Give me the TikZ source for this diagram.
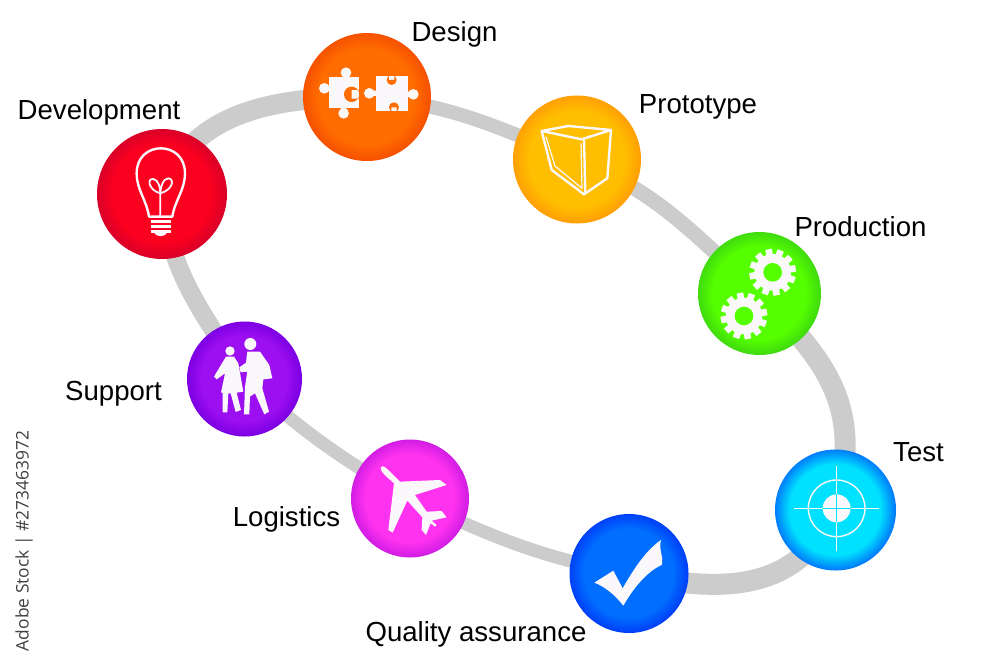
\documentclass[tikz,border=0pt]{standalone}
\usepackage{fontspec}
\setmainfont{Liberation Sans}
\newfontfamily\stockfont{Open Sans}
\usetikzlibrary{backgrounds,positioning}

\definecolor{ringgrey}{RGB}{204,204,204}
\definecolor{iconwhite}{RGB}{250,248,250}
\definecolor{redin}{RGB}{252,0,32}\definecolor{redout}{RGB}{218,0,40}
\definecolor{orangein}{RGB}{255,108,0}\definecolor{orangeout}{RGB}{246,82,0}
\definecolor{yellowin}{RGB}{255,190,0}\definecolor{yellowout}{RGB}{255,160,5}
\definecolor{greenin}{RGB}{85,255,0}\definecolor{greenout}{RGB}{65,220,15}
\definecolor{cyanin}{RGB}{0,225,255}\definecolor{cyanout}{RGB}{0,125,250}
\definecolor{bluein}{RGB}{0,110,255}\definecolor{blueout}{RGB}{0,65,248}
\definecolor{pinkin}{RGB}{255,50,240}\definecolor{pinkout}{RGB}{210,30,228}
\definecolor{purplein}{RGB}{155,15,240}\definecolor{purpleout}{RGB}{125,0,228}

\tikzset{
  ball/.style n args={2}{circle,minimum size=2*#1 pt,inner sep=0pt,fill=#2out,
    path picture={
      \foreach \stepno in {1,...,16}{
        \pgfmathsetmacro\mixval{\stepno*100/16}
        \pgfmathsetmacro\radval{#1*(1-0.015*\stepno)}
        \fill[#2in!\mixval!#2out] (path picture bounding box.center) circle (\radval pt);
      }
    }},
  caption/.style={anchor=base,font=\fontsize{27.6}{30}\selectfont},
  ringline/.style={draw=ringgrey,line width=#1},
  iconline/.style={draw=iconwhite,line width=2.4pt,line join=round},
  zoomed/.style={shift={(#1)},x=0.3333pt,y=-0.3333pt}
}

\begin{document}
\begin{tikzpicture}[x=1pt,y=-1pt]
  \useasboundingbox (0,0) rectangle (1000,667);

  \node[ball={65}{red}]      (dev)    at (162,194) {};
  \node[ball={64}{orange}]   (design) at (367,97) {};
  \node[ball={64}{yellow}]   (proto)  at (577,159.5) {};
  \node[ball={61.5}{green}]  (prod)   at (759.5,293.5) {};
  \node[ball={60.5}{cyan}]   (test)   at (835.5,510) {};
  \node[ball={59.5}{blue}]   (qa)     at (629,573.5) {};
  \node[ball={59}{pink}]     (logi)   at (410,498.5) {};
  \node[ball={57.5}{purple}] (supp)   at (244.5,379) {};

  \begin{pgfonlayer}{background}
    \path[ringline=20pt] (dev.center) edge[out=72,in=180] (design.center);
    \path[ringline=14pt] (design.center) edge[out=-5,in=158] (proto.center);
    \path[ringline=15pt] (proto.center) edge[out=-22,in=138] (prod.center);
    \path[ringline=21pt] (prod.center) edge[out=-45,in=75,looseness=1.15] (test.center);
    \path[ringline=21pt] (test.center) edge[out=-115,in=-12,looseness=1.1] (qa.center);
    \path[ringline=13pt] (qa.center) edge[out=170,in=-25] (logi.center);
    \path[ringline=13pt] (logi.center) edge[out=150,in=-42] (supp.center);
    \path[ringline=18pt] (supp.center) edge[out=122,in=-85] (dev.center);
  \end{pgfonlayer}

  \node[caption] (devtxt)    at (99,119)  {Development};
  \node[caption] (designtxt) at (454.5,41) {Design};
  \node[caption] (prototxt)  at (698,113) {Prototype};
  \node[caption] (prodtxt)   at (860.5,236) {Production};
  \node[caption] (testtxt)   at (918.5,461) {Test};
  \node[caption] (supptxt)   at (113.5,400) {Support};
  \node[caption] (logitxt)   at (286.5,526) {Logistics};
  \node[caption] (qatxt)     at (476,641) {Quality assurance};
  \node[anchor=center,rotate=90,font=\stockfont\fontsize{17.4}{20}\selectfont,text=black!75] (stockid) at (24,541) {Adobe Stock | \#273463972};

  % bulb
  \begin{scope}[zoomed={80,0}]
    \draw[iconline] (207,650) .. controls (200,600) and (170,570) .. (170,520)
      .. controls (170,420) and (315,420) .. (315,520)
      .. controls (315,570) and (285,600) .. (277,650) -- cycle;
    \draw[iconline,line width=1.8pt] (241,650) -- (241,580)
      .. controls (205,570) and (200,535) .. (220,537) .. controls (235,540) and (241,560) .. (241,585)
      .. controls (241,560) and (250,535) .. (265,535) .. controls (285,537) and (278,570) .. (241,580);
    \foreach \ypos in {664,680,694}
      \draw[iconline] (212,\ypos) -- (273,\ypos);
    \fill[iconwhite] (222,698) .. controls (228,712) and (256,712) .. (262,698) -- cycle;
  \end{scope}

  % puzzle
  \begin{scope}[zoomed={80,0}]
    \fill[iconwhite] (748,232) rectangle (838,325);
    \foreach \xpos/\ypos in {798/218,733/265,791/340}
      \fill[iconwhite] (\xpos,\ypos) circle (16);
    \fill[iconwhite] (790,225) rectangle (806,240) (735,257) rectangle (755,273) (783,320) rectangle (799,335);
    \fill[orangein] (815,283) circle (23) (815,270) rectangle (842,296);
    \fill[iconwhite] (888,228) rectangle (985,332);
    \fill[iconwhite] (868,280) circle (16) (1000,283) circle (16);
    \fill[iconwhite] (870,272) rectangle (895,288) (980,275) rectangle (1000,291);
    \fill[orangein] (935,240) circle (15) (942,322) circle (15) (927,222) rectangle (943,240) (934,322) rectangle (950,338);
  \end{scope}

  % box
  \begin{scope}[zoomed={500,80}]
    \draw[iconline] (125,153) -- (205,138) -- (333,150) -- (245,178) -- cycle;
    \draw[iconline] (125,153) -- (155,270) -- (252,343) -- (322,295) -- (333,150);
    \draw[iconline] (252,178) -- (256,338);
    \draw[iconline,line width=1.2pt] (138,170) -- (165,258) -- (246,325) -- (243,190);
  \end{scope}

  % gears
  \begin{scope}[zoomed={500,80}]
    \foreach \cx/\cy in {818/577,732/708}{
      \fill[iconwhite] (\cx,\cy) circle (55);
      \foreach \ang in {0,30,...,330}
        \fill[iconwhite,shift={(\cx,\cy)},rotate=\ang+10] (-10,40) rectangle (10,70);
      \fill[greenin] (\cx,\cy) circle (28);
    }
  \end{scope}

  % target
  \begin{scope}[zoomed={550,440}]
    \draw[iconline,line width=1.4pt] (860,205) circle (85);
    \fill[iconwhite] (860,205) circle (42);
    \draw[iconwhite,line width=1.3pt] (732,205) -- (988,205) (860,77) -- (860,332);
    \draw[cyanin,line width=0.8pt] (818,205) -- (902,205) (860,163) -- (860,247);
  \end{scope}

  % check
  \begin{scope}[zoomed={550,440}]
    \fill[iconwhite] (133,428) -- (190,392) -- (218,445)
      .. controls (255,380) and (290,330) .. (333,300)
      .. controls (325,330) and (342,350) .. (335,375)
      .. controls (290,395) and (250,445) .. (220,497)
      .. controls (195,465) and (165,440) .. (133,428) -- cycle;
  \end{scope}

  % plane
  \begin{scope}[zoomed={170,310}]
    \fill[iconwhite] (632,472) .. controls (640,462) and (650,475) .. (690,515)
      -- (810,510) -- (830,525) -- (735,555) -- (770,605) -- (815,603) -- (830,622)
      -- (785,632) -- (800,645) -- (795,650) -- (782,640) -- (768,675) -- (755,660)
      -- (757,622) -- (712,572) -- (668,668) -- (655,660) -- (672,520)
      .. controls (650,500) and (630,485) .. (632,472) -- cycle;
  \end{scope}

  % people
  \begin{scope}[zoomed={170,310}]
    \fill[iconwhite] (241,102) circle (18) (180,123) circle (14);
    \fill[iconwhite] (232,125) -- (270,125) -- (298,165) -- (307,205) -- (280,208) -- (277,235)
      -- (297,305) -- (283,313) -- (255,250) -- (240,260) -- (238,313) -- (222,313)
      -- (225,230) -- (232,185) -- (212,187) -- (208,172) -- (228,158) -- cycle;
    \fill[iconwhite] (168,140) -- (192,140) -- (205,160) -- (220,245) -- (200,248) -- (213,300)
      -- (197,306) -- (182,250) -- (175,250) -- (172,307) -- (158,307) -- (158,248) -- (153,248)
      -- (165,190) -- (140,208) -- (132,200) -- cycle;
  \end{scope}
\end{tikzpicture}
\end{document}
